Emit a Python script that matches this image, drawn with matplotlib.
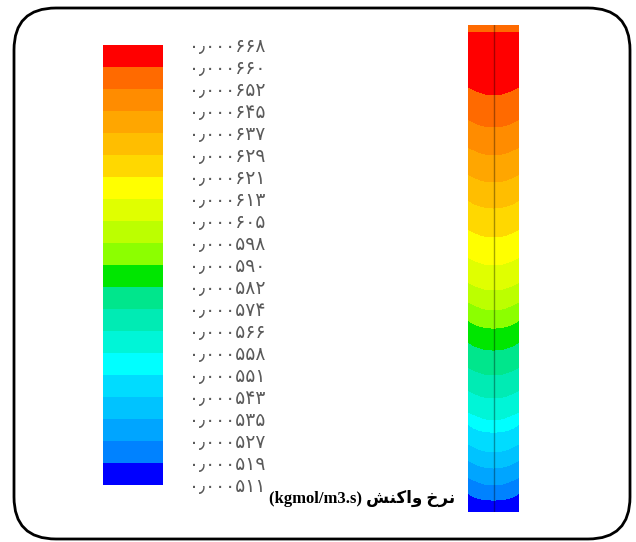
import matplotlib
matplotlib.use("Agg")
import matplotlib.pyplot as plt
import numpy as np
from matplotlib.colors import ListedColormap, BoundaryNorm
from matplotlib.patches import FancyBboxPatch
import matplotlib.colorbar as mcolorbar

# ---------------- data ----------------
# contour levels of the reaction rate (kgmol/m3.s), top of legend first
levels = [0.000668, 0.000660, 0.000652, 0.000645, 0.000637, 0.000629, 0.000621,
          0.000613, 0.000605, 0.000598, 0.000590, 0.000582, 0.000574, 0.000566,
          0.000558, 0.000551, 0.000543, 0.000535, 0.000527, 0.000519, 0.000511]

# band colours, top (highest) band first
band_colors = ["#ff0000", "#ff6a00", "#ff8c00", "#ffa600", "#ffbe00", "#ffd800",
               "#ffff00", "#e0ff00", "#bcff00", "#8cff00", "#00e600", "#00e68c",
               "#00ebb4", "#00f5d7", "#00ffff", "#00dcff", "#00c3ff", "#00a5ff",
               "#0082ff", "#0000ff"]

# axial profile of the reactor (axial distance from inlet, arbitrary units 0..487)
centre_axial = [0, 7, 35, 70, 102, 130, 157, 183, 212, 240, 265, 285, 303, 325,
                350, 373, 395, 407, 427, 443, 460, 475, 487]
wall_axial = [0, 7, 30, 62, 94, 122, 149, 175, 204, 232, 257, 277, 295, 317,
              342, 365, 387, 399, 419, 435, 452, 467, 487]
profile_values = [0.0006570, 0.0006600, 0.0006665, 0.0006600, 0.0006520, 0.0006450,
                  0.0006370, 0.0006290, 0.0006210, 0.0006130, 0.0006050, 0.0005980,
                  0.0005900, 0.0005820, 0.0005740, 0.0005660, 0.0005580, 0.0005510,
                  0.0005430, 0.0005350, 0.0005270, 0.0005190, 0.0005140]

title_text = "(kgmol/m3.s) " + "\uFEB6\uFEE8\uFB90\uFE8D\uFEED \uFEA5\uFEAE\uFEE7"

# ---------------- figure ----------------
W, H = 636, 542
fig = plt.figure(figsize=(W / 100, H / 100), dpi=100)
fig.patch.set_facecolor("white")

def px_axes(x0, y0, x1, y1):
    return fig.add_axes([x0 / W, 1 - y1 / H, (x1 - x0) / W, (y1 - y0) / H])

# background / frame
bg = fig.add_axes([0, 0, 1, 1])
bg.set_xlim(0, W)
bg.set_ylim(H, 0)
bg.axis("off")
frame = FancyBboxPatch((14, 8), 616, 531, boxstyle="round,pad=0,rounding_size=42",
                       linewidth=2, edgecolor="black", facecolor="none")
bg.add_patch(frame)

# legend colour bar
cax = px_axes(103, 45, 163, 485)
asc_levels = levels[::-1]
cmap = ListedColormap(band_colors[::-1])
norm = BoundaryNorm(asc_levels, cmap.N)
cb = mcolorbar.ColorbarBase(cax, cmap=cmap, norm=norm, orientation="vertical",
                            ticks=asc_levels, spacing="uniform")
cb.outline.set_visible(False)

persian = str.maketrans("0123456789.", "۰۱۲۳۴۵۶۷۸۹٫")
labels = [f"{v:.6f}".translate(persian) for v in asc_levels]
cb.set_ticklabels(labels)
cax.tick_params(axis="y", length=0, pad=19, labelsize=13.5, labelcolor="#5a5a5a")
for t in cax.get_yticklabels():
    t.set_fontfamily(["DejaVu Sans"])

# reactor contour
rax = px_axes(468, 25, 519, 512)
r = np.linspace(-1, 1, 121)
z = np.linspace(0, 487, 600)
R, Z = np.meshgrid(r, z)
fc = np.interp(z, centre_axial, profile_values)
fw = np.interp(z, wall_axial, profile_values)
field = fc[:, None] + (fw - fc)[:, None] * R ** 2
rax.contourf(R, Z, field, levels=asc_levels, colors=band_colors[::-1])
rax.axvline(0, color="black", lw=1, alpha=0.35)
rax.set_xlim(-1, 1)
rax.set_ylim(487, 0)
rax.axis("off")

# title
bg.text(455, 498, title_text, ha="right", va="center", fontsize=12, fontweight="bold",
        family=["Liberation Serif", "DejaVu Sans"], color="black")

fig.savefig("out.png", dpi=100)
